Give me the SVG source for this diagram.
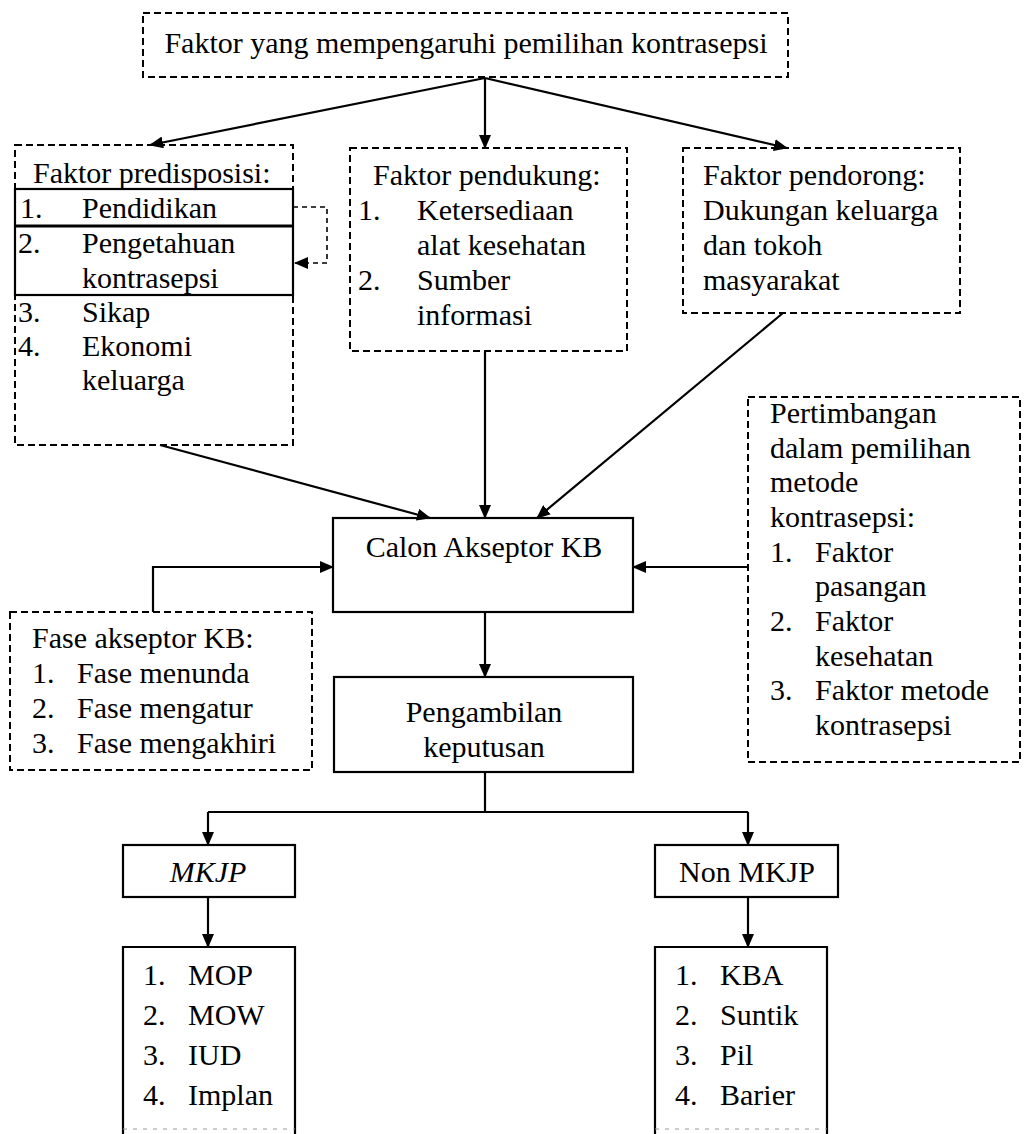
<svg xmlns="http://www.w3.org/2000/svg" width="1028" height="1134" viewBox="0 0 1028 1134">
<style>
text{font-family:"Liberation Serif","Times New Roman",serif;font-size:30px;fill:#000}
.c{text-anchor:middle}
.dash{fill:none;stroke:#000;stroke-width:2;stroke-dasharray:7 4}
.solid{fill:none;stroke:#000;stroke-width:2.2}
.con{fill:none;stroke:#000;stroke-width:2.2}
.fb{fill:none;stroke:#000;stroke-width:1.6;stroke-dasharray:5 4}
</style>
<defs>
<marker id="ah" markerUnits="userSpaceOnUse" markerWidth="14" markerHeight="12" refX="13" refY="6" orient="auto">
<path d="M0,0 L14,6 L0,12 z" fill="#000"/>
</marker>
</defs>
<rect width="1028" height="1134" fill="#fff"/>

<g id="connectors">
<line class="con" x1="485" y1="78" x2="150" y2="145" marker-end="url(#ah)"/>
<line class="con" x1="485" y1="78" x2="485" y2="148" marker-end="url(#ah)"/>
<line class="con" x1="485" y1="78" x2="787" y2="148" marker-end="url(#ah)"/>
<line class="con" x1="160" y1="445" x2="430" y2="518" marker-end="url(#ah)"/>
<line class="con" x1="485" y1="351" x2="485" y2="518" marker-end="url(#ah)"/>
<line class="con" x1="783" y1="313" x2="537" y2="518" marker-end="url(#ah)"/>
<line class="con" x1="748" y1="567" x2="633" y2="567" marker-end="url(#ah)"/>
<polyline class="con" points="153,612 153,567 333,567" marker-end="url(#ah)"/>
<line class="con" x1="485" y1="612" x2="485" y2="677" marker-end="url(#ah)"/>
<polyline class="con" points="485,772 485,812"/>
<line class="con" x1="208" y1="812" x2="748" y2="812"/>
<line class="con" x1="208" y1="812" x2="208" y2="845" marker-end="url(#ah)"/>
<line class="con" x1="748" y1="812" x2="748" y2="845" marker-end="url(#ah)"/>
<line class="con" x1="208" y1="897" x2="208" y2="947" marker-end="url(#ah)"/>
<line class="con" x1="748" y1="897" x2="748" y2="947" marker-end="url(#ah)"/>
<polyline class="fb" points="293,207 327,207 327,263 295,263" marker-end="url(#ah)"/>
</g>

<g id="node-top">
<rect class="dash" x="143" y="13" width="645" height="64"/>
<text class="c" x="466" y="53">Faktor yang mempengaruhi pemilihan kontrasepsi</text>
</g>

<g id="node-predisposisi">
<rect class="dash" x="15" y="145" width="278" height="300"/>
<rect class="solid" x="15" y="189" width="278" height="106"/>
<line x1="15" y1="226" x2="293" y2="226" stroke="#000" stroke-width="3.2"/>
<text x="33" y="183">Faktor predisposisi:</text>
<text x="20" y="218">1.</text><text x="82" y="218">Pendidikan</text>
<text x="18" y="253">2.</text><text x="82" y="253">Pengetahuan</text>
<text x="82" y="288">kontrasepsi</text>
<text x="18" y="322">3.</text><text x="82" y="322">Sikap</text>
<text x="18" y="356">4.</text><text x="82" y="356">Ekonomi</text>
<text x="82" y="390">keluarga</text>
</g>

<g id="node-pendukung">
<rect class="dash" x="350" y="148" width="277" height="203"/>
<text x="373" y="185">Faktor pendukung:</text>
<text x="358" y="220">1.</text><text x="417" y="220">Ketersediaan</text>
<text x="417" y="255">alat kesehatan</text>
<text x="358" y="290">2.</text><text x="417" y="290">Sumber</text>
<text x="417" y="325">informasi</text>
</g>

<g id="node-pendorong">
<rect class="dash" x="683" y="148" width="277" height="165"/>
<text x="703" y="185">Faktor pendorong:</text>
<text x="703" y="220">Dukungan keluarga</text>
<text x="703" y="255">dan tokoh</text>
<text x="703" y="290">masyarakat</text>
</g>

<g id="node-calon">
<rect class="solid" x="333" y="518" width="300" height="94"/>
<text class="c" x="484" y="557">Calon Akseptor KB</text>
</g>

<g id="node-pertimbangan">
<rect class="dash" x="748" y="397" width="272" height="365"/>
<text x="770" y="423">Pertimbangan</text>
<text x="770" y="458">dalam pemilihan</text>
<text x="770" y="492">metode</text>
<text x="770" y="527">kontrasepsi:</text>
<text x="770" y="562">1.</text><text x="815" y="562">Faktor</text>
<text x="815" y="596">pasangan</text>
<text x="770" y="631">2.</text><text x="815" y="631">Faktor</text>
<text x="815" y="666">kesehatan</text>
<text x="770" y="700">3.</text><text x="815" y="700">Faktor metode</text>
<text x="815" y="735">kontrasepsi</text>
</g>

<g id="node-fase">
<rect class="dash" x="10" y="612" width="302" height="158"/>
<text x="32" y="648">Fase akseptor KB:</text>
<text x="32" y="683">1.</text><text x="77" y="683">Fase menunda</text>
<text x="32" y="718">2.</text><text x="77" y="718">Fase mengatur</text>
<text x="32" y="753">3.</text><text x="77" y="753">Fase mengakhiri</text>
</g>

<g id="node-pengambilan">
<rect class="solid" x="334" y="677" width="299" height="95"/>
<text class="c" x="484" y="722">Pengambilan</text>
<text class="c" x="484" y="757">keputusan</text>
</g>

<g id="node-mkjp">
<rect class="solid" x="123" y="845" width="172" height="52"/>
<text class="c" x="208" y="882" font-style="italic">MKJP</text>
</g>

<g id="node-nonmkjp">
<rect class="solid" x="655" y="845" width="183" height="52"/>
<text class="c" x="747" y="882">Non MKJP</text>
</g>

<g id="node-mkjp-list">
<polyline class="solid" points="123,1134 123,947 295,947 295,1134"/>
<line x1="123" y1="1129" x2="295" y2="1129" stroke="#999" stroke-width="1" stroke-dasharray="4 6"/>
<text x="143" y="985">1.</text><text x="188" y="985">MOP</text>
<text x="143" y="1025">2.</text><text x="188" y="1025">MOW</text>
<text x="143" y="1065">3.</text><text x="188" y="1065">IUD</text>
<text x="143" y="1105">4.</text><text x="188" y="1105">Implan</text>
</g>

<g id="node-nonmkjp-list">
<polyline class="solid" points="655,1134 655,947 827,947 827,1134"/>
<line x1="655" y1="1129" x2="827" y2="1129" stroke="#999" stroke-width="1" stroke-dasharray="4 6"/>
<text x="675" y="985">1.</text><text x="720" y="985">KBA</text>
<text x="675" y="1025">2.</text><text x="720" y="1025">Suntik</text>
<text x="675" y="1065">3.</text><text x="720" y="1065">Pil</text>
<text x="675" y="1105">4.</text><text x="720" y="1105">Barier</text>
</g>
</svg>
